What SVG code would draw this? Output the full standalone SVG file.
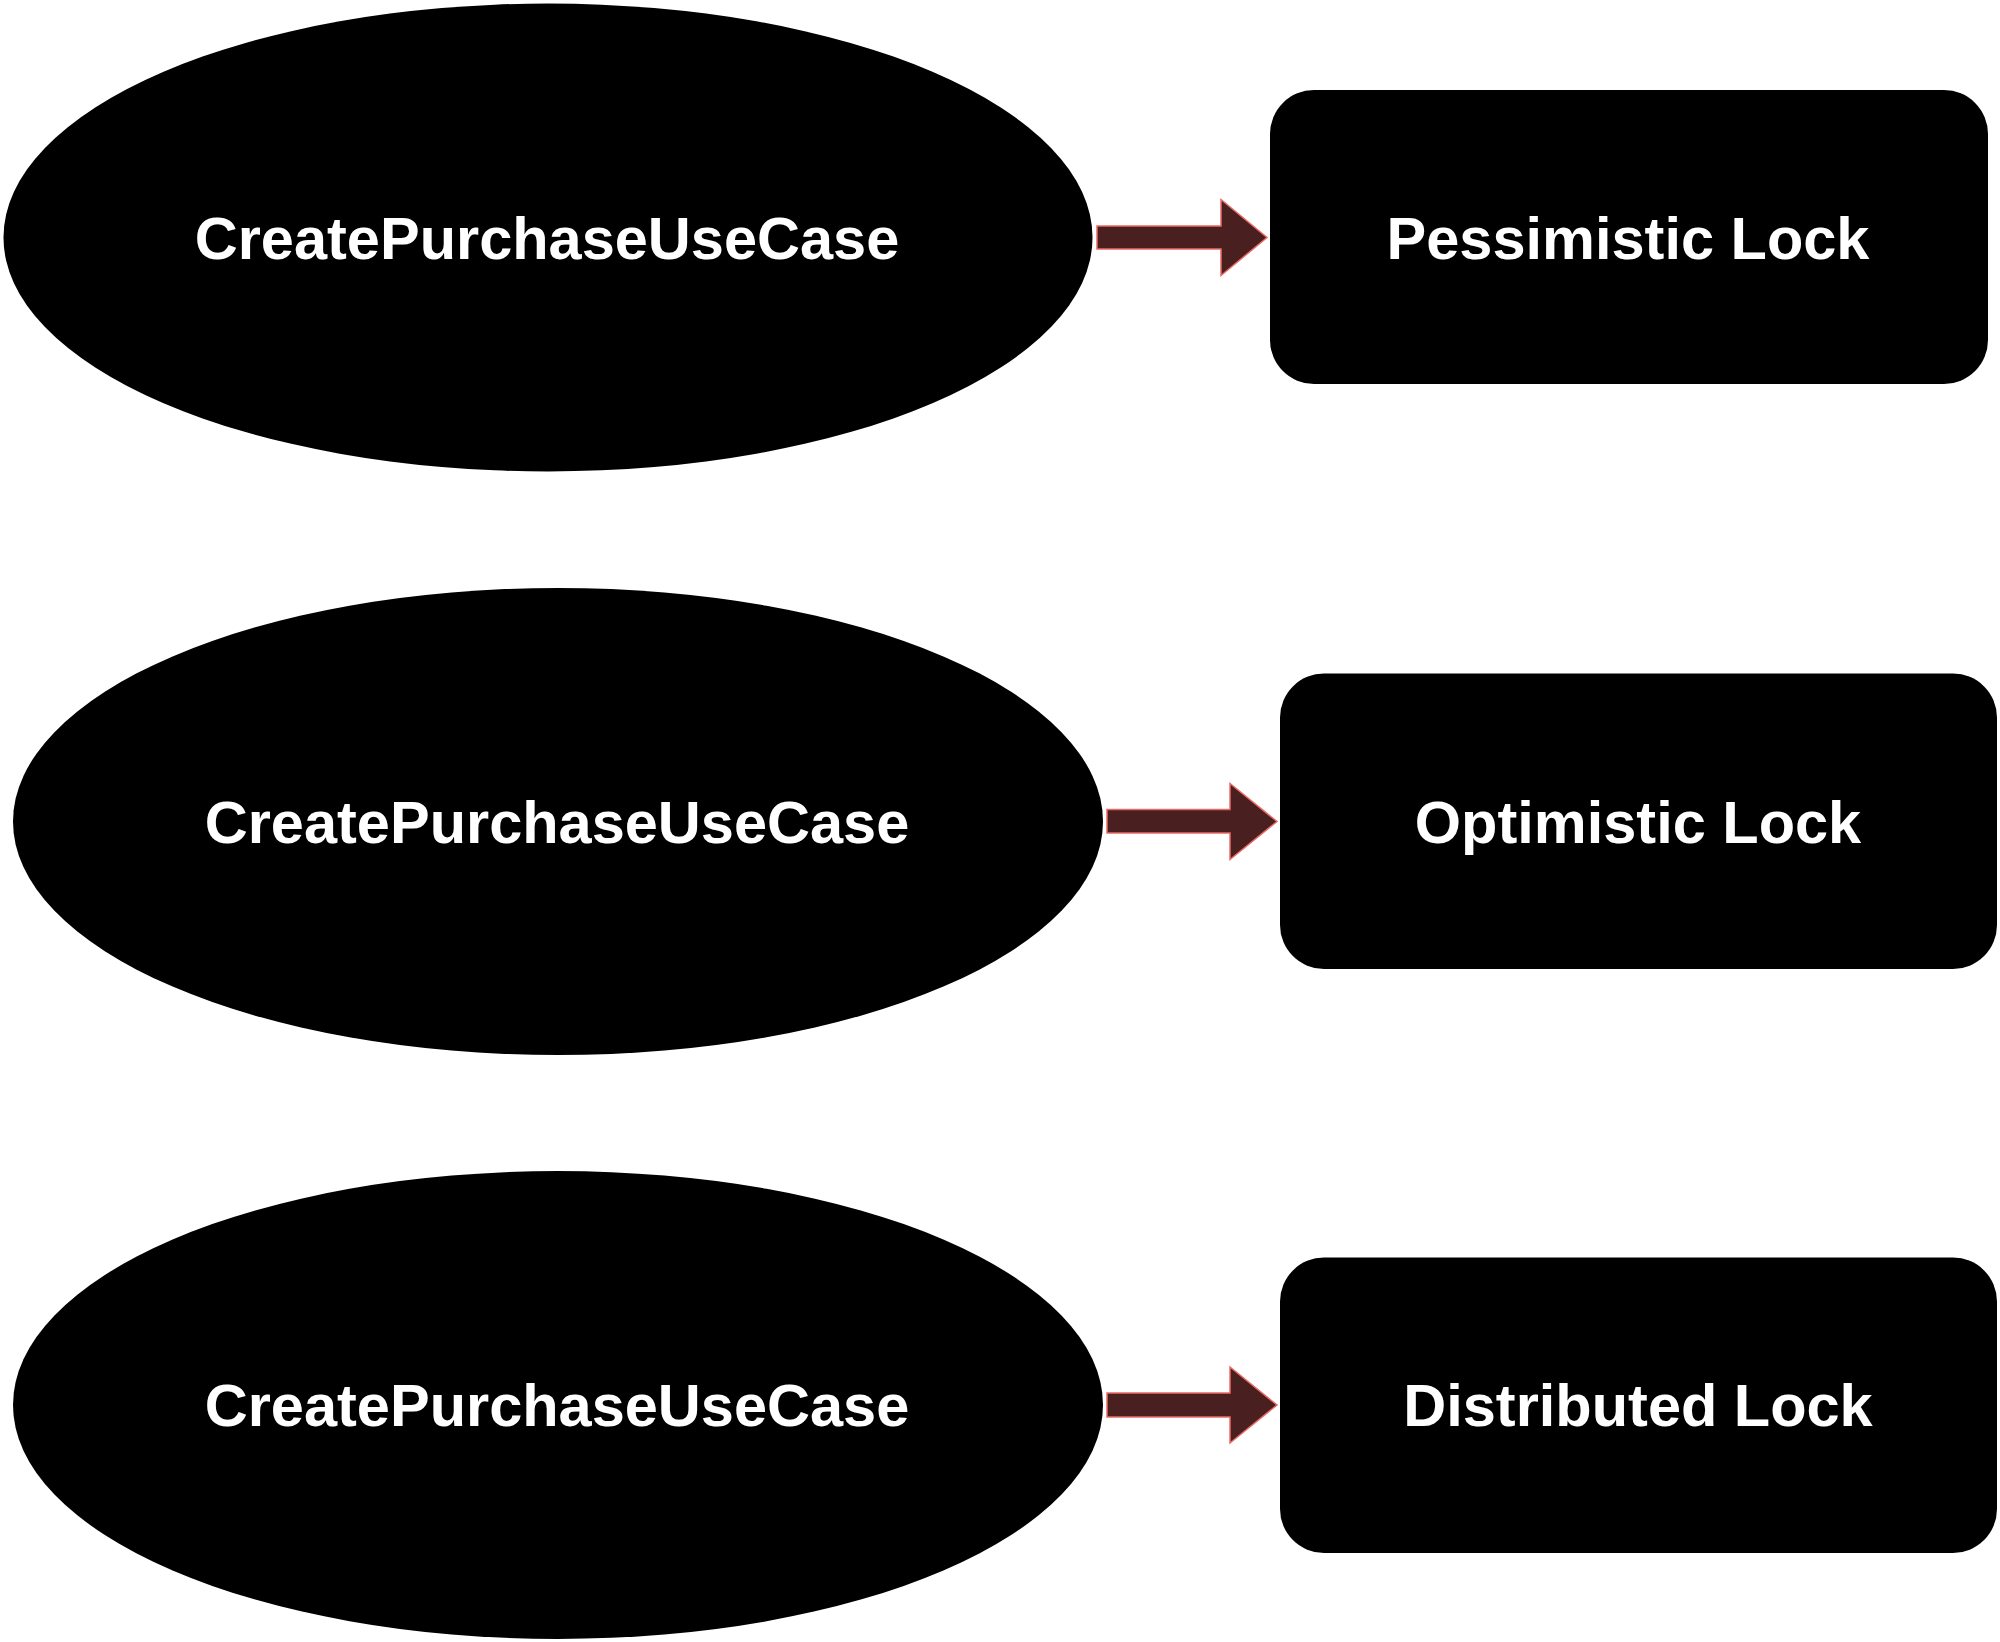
<svg xmlns="http://www.w3.org/2000/svg" width="2000" height="1642" viewBox="0 0 2000 1642">
<style>
.node{fill:#000000;stroke:none}
.lbl{fill:#ffffff;font-family:"Liberation Sans",Arial,sans-serif;font-weight:bold;font-size:59.5px;text-anchor:middle}
.arrow{fill:#4a1f1f;stroke:#ea6b66;stroke-width:1.5;stroke-linejoin:miter}
</style>
<rect width="2000" height="1642" fill="#ffffff"/>
<g id="uc1">
<ellipse class="node" cx="548" cy="237.5" rx="544.5" ry="234"/>
<text class="lbl" x="547" y="258.5">CreatePurchaseUseCase</text>
</g>
<g id="lock1">
<rect class="node" x="1270" y="90" width="718" height="294" rx="44" ry="44"/>
<text class="lbl" x="1628" y="258.5">Pessimistic Lock</text>
</g>
<g id="uc2">
<ellipse class="node" cx="558" cy="821.5" rx="545" ry="233.5"/>
<text class="lbl" x="557" y="842.5">CreatePurchaseUseCase</text>
</g>
<g id="lock2">
<rect class="node" x="1280" y="673.5" width="717" height="295.5" rx="44" ry="44"/>
<text class="lbl" x="1638" y="842.5">Optimistic Lock</text>
</g>
<g id="uc3">
<ellipse class="node" cx="558" cy="1405" rx="545" ry="234"/>
<text class="lbl" x="557" y="1426">CreatePurchaseUseCase</text>
</g>
<g id="lock3">
<rect class="node" x="1280" y="1257.5" width="717" height="295.5" rx="44" ry="44"/>
<text class="lbl" x="1638" y="1426">Distributed Lock</text>
</g>
<g id="connectors">
<path class="arrow" d="M1097,226 L1221,226 L1221,199.5 L1267,237.5 L1221,275.5 L1221,249 L1097,249 Z"/>
<path class="arrow" d="M1107,809.5 L1230,809.5 L1230,783.5 L1277,821.5 L1230,859.5 L1230,833 L1107,833 Z"/>
<path class="arrow" d="M1107,1393 L1230,1393 L1230,1367 L1277,1405 L1230,1443 L1230,1417 L1107,1417 Z"/>
</g>
</svg>
